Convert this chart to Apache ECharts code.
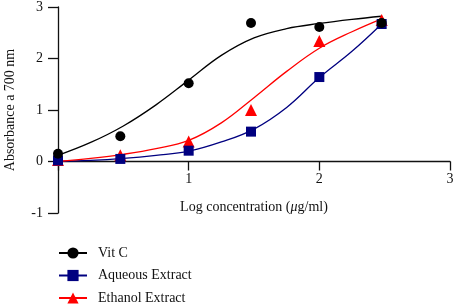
<!DOCTYPE html>
<html>
<head>
<meta charset="utf-8">
<script src="https://cdn.jsdelivr.net/npm/echarts@6/dist/echarts.min.js"></script>
<style>
  html, body { margin: 0; padding: 0; background: #fff; }
  #chart { width: 454px; height: 305px; }
</style>
</head>
<body>
<div id="chart"></div>
<script>
// log10 of concentrations 1, 3, 10, 30, 100, 300
var logConc = [0, 0.477, 1, 1.477, 2, 2.477];
var vitC = [0.15, 0.49, 1.52, 2.69, 2.61, 2.69];
var aqueous = [0.02, 0.05, 0.21, 0.58, 1.64, 2.67];
var ethanol = [0.03, 0.12, 0.39, 1.0, 2.34, 2.75];

// fitted curves
var curveX = [0, 0.25, 0.5, 0.75, 1, 1.25, 1.5, 1.75, 2, 2.25, 2.477];
var vitCFit = [0.12, 0.37, 0.69, 1.1, 1.58, 2.06, 2.4, 2.58, 2.68, 2.76, 2.82];
var aqueousFit = [0, 0.02, 0.06, 0.12, 0.2, 0.38, 0.63, 1.05, 1.63, 2.14, 2.67];
var ethanolFit = [0, 0.06, 0.14, 0.25, 0.41, 0.75, 1.24, 1.75, 2.2, 2.52, 2.77];

var xTicks = ['', '1', '2', '3'];
var yTicks = [-1, 0, 1, 2, 3];

var serif = 'Liberation Serif';

function pairs(xs, ys) {
  return xs.map(function (x, i) { return [x, ys[i]]; });
}

function fitSeries(name, ys, color, symbol) {
  return {
    name: name,
    type: 'line',
    data: pairs(curveX, ys),
    smooth: 0.4,
    showSymbol: false,
    symbol: symbol,
    symbolSize: 11,
    itemStyle: { color: color },
    lineStyle: { color: color, width: 1.3 },
    silent: true,
    z: 2
  };
}

function pointSeries(name, ys, color, symbol, size, z) {
  return {
    name: name,
    type: 'scatter',
    data: pairs(logConc, ys),
    symbol: symbol,
    symbolSize: size,
    itemStyle: { color: color, opacity: 1 },
    z: z
  };
}

var chart = echarts.init(document.getElementById('chart'));
var option = {
  animation: false,
  textStyle: { fontFamily: serif },
  grid: { left: 58, right: 4, top: 7, bottom: 92, outerBoundsMode: 'none', containLabel: false },
  legend: {
    orient: 'vertical',
    left: 58,
    top: 246,
    padding: 0,
    itemWidth: 28,
    itemHeight: 14,
    itemGap: 8.5,
    data: ['Vit C', 'Aqueous Extract', 'Ethanol Extract'],
    textStyle: { fontFamily: serif, fontSize: 14, color: '#111', padding: [0, 0, 0, 6] }
  },
  xAxis: {
    type: 'value',
    min: 0,
    max: 3,
    interval: 1,
    offset: -51.5,
    name: 'Log concentration ({i|μ}g/ml)',
    nameLocation: 'middle',
    nameGap: 39,
    nameTextStyle: {
      fontFamily: serif, fontSize: 14, color: '#111',
      rich: { i: { fontFamily: serif, fontSize: 14, fontStyle: 'italic', color: '#111' } }
    },
    axisLine: { onZero: false, lineStyle: { color: '#111', width: 1.3 } },
    axisTick: { length: 9, lineStyle: { color: '#111', width: 1.3 } },
    axisLabel: {
      fontFamily: serif, fontSize: 14, color: '#111', margin: 11,
      formatter: function (v) { return xTicks[Math.round(v)]; }
    },
    splitLine: { show: false }
  },
  yAxis: {
    type: 'value',
    min: yTicks[0],
    max: yTicks[yTicks.length - 1],
    interval: 1,
    name: 'Absorbance a 700 nm',
    nameLocation: 'middle',
    nameGap: 41,
    nameTextStyle: { fontFamily: serif, fontSize: 14, color: '#111' },
    axisLine: { show: true, onZero: false, lineStyle: { color: '#111', width: 1.3 } },
    axisTick: { length: 10, lineStyle: { color: '#111', width: 1.3 } },
    axisLabel: { fontFamily: serif, fontSize: 14, color: '#111', margin: 15 },
    splitLine: { show: false }
  },
  series: [
    fitSeries('Vit C', vitCFit, '#000000', 'circle'),
    fitSeries('Aqueous Extract', aqueousFit, '#000080', 'rect'),
    fitSeries('Ethanol Extract', ethanolFit, '#ff0000', 'triangle'),
    pointSeries('Ethanol Extract', ethanol, '#ff0000', 'triangle', 12, 3),
    pointSeries('Aqueous Extract', aqueous, '#000080', 'rect', 10, 4),
    pointSeries('Vit C', vitC, '#000000', 'circle', 10, 5)
  ]
};
option && chart.setOption(option);
</script>
</body>
</html>
